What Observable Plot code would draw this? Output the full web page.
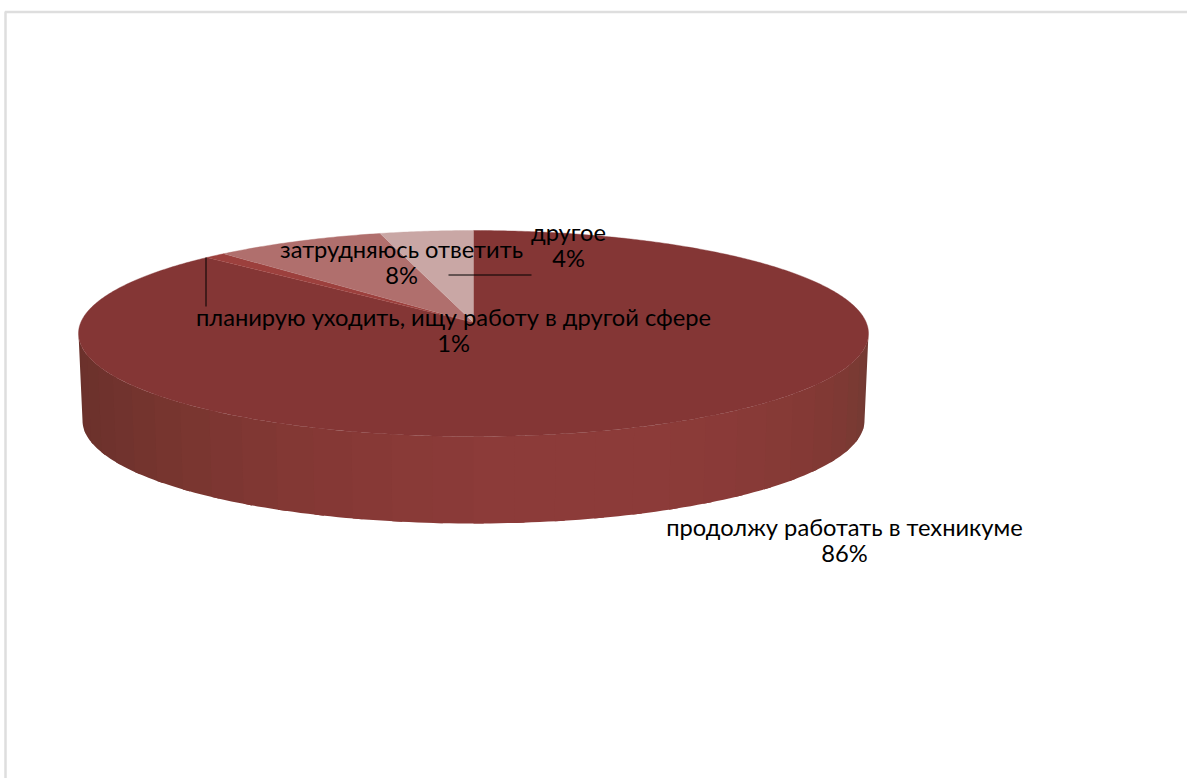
<!DOCTYPE html>
<html lang="ru">
<head>
<meta charset="utf-8">
<script src="https://cdn.jsdelivr.net/npm/d3@7"></script>
<script src="https://cdn.jsdelivr.net/npm/@observablehq/plot@0.6"></script>
<style>html,body{margin:0;padding:0;background:#fff;overflow:hidden}svg{display:block}</style>
</head>
<body>
<div id="chart"></div>
<script>
// Data: categories and values
const categories = ["продолжу работать в техникуме", "планирую уходить, ищу работу в другой сфере", "затрудняюсь ответить", "другое"];
const percentLabels = ["86%", "1%", "8%", "4%"];
const sliceShares = [88.2, 0.9, 7.1, 3.8]; // apparent share of the drawn circle
const sliceColors = ["#843635", "#9c403d", "#b06f6d", "#c9a7a5"];
// Shades of the rim, one per 6° step, left to right along the front
const rimShades = ["#6a312b","#6c312c","#6d322c","#6f322d","#71332e","#74342e","#77352f","#7a3630","#7d3632","#803733",
  "#833834","#853835","#873936","#893a37","#8a3a38","#8c3b39","#8c3b39","#8c3b39","#8c3b39","#8c3b39",
  "#8b3b38","#8a3a38","#883a37","#863a36","#843935","#813934","#7e3934","#7a3a33","#763a33","#723a33"];

// Layout
const W = 1187, H = 778;
const top3d = {cx: 473, cy: 333, rx: 395, ry: 103, apexY: 322};
const bottom3d = {cx: 473, cy: 420, rx: 391, ry: 103};
const labelAt = [{x: 844, y: 540.5}, {x: 453, y: 330.5}, {x: 401, y: 262.5}, {x: 568, y: 245.5}];
const leaders = [{x1: 205.5, y1: 257, x2: 205.5, y2: 306}, {x1: 448, y1: 274.5, x2: 531, y2: 274.5}];
const frame = {color: "#dedede", top: 11.5, left: 5};

const rad = d => d * Math.PI / 180;
const rimPoint = (e, a) => ({x: e.cx + e.rx * Math.sin(rad(a)), y: e.cy - e.ry * Math.cos(rad(a))});

// Top face: wedges swept clockwise from 12 o'clock
const total = d3.sum(sliceShares);
let sweep = 0;
const wedges = [];
sliceShares.forEach((share, i) => {
  const from = sweep, to = sweep + share / total * 360;
  wedges.push({id: "w" + i, color: sliceColors[i], x: top3d.cx, y: top3d.apexY});
  for (let a = from; a <= to; a += 0.5) wedges.push({id: "w" + i, color: sliceColors[i], ...rimPoint(top3d, a)});
  wedges.push({id: "w" + i, color: sliceColors[i], ...rimPoint(top3d, to)});
  sweep = to;
});

// Side wall: strips on the front half, each overlapping the next so no seam shows
const strips = [];
rimShades.forEach((color, i) => {
  const a0 = 270 - i * 6, a1 = Math.max(a0 - 7.5, 90), id = "s" + i;
  const pts = [];
  for (let k = 0; k <= 6; k++) pts.push(rimPoint(top3d, a0 + (a1 - a0) * k / 6));
  for (let k = 6; k >= 0; k--) pts.push(rimPoint(bottom3d, a0 + (a1 - a0) * k / 6));
  pts.forEach(p => strips.push({id, color, ...p}));
});

const labels = categories.map((c, i) => ({text: c + "\n" + percentLabels[i], ...labelAt[i]}));

const chart = Plot.plot({
  width: W, height: H, margin: 0,
  x: {domain: [0, W], range: [0, W], axis: null},
  y: {domain: [0, H], range: [0, H], axis: null},
  style: {background: "#fff"},
  marks: [
    Plot.ruleY([frame.top], {x1: frame.left, x2: W, stroke: frame.color, strokeWidth: 2.5}),
    Plot.ruleX([frame.left], {y1: frame.top, y2: H, stroke: frame.color, strokeWidth: 2.5}),
    Plot.line(strips, {x: "x", y: "y", z: "id", fill: "color", stroke: "none"}),
    Plot.line(wedges, {x: "x", y: "y", z: "id", fill: "color", stroke: "color", strokeWidth: 0.4}),
    Plot.link(leaders, {x1: "x1", y1: "y1", x2: "x2", y2: "y2", stroke: "#000", strokeWidth: 1}),
    Plot.text(labels, {x: "x", y: "y", text: "text", fontFamily: "Lato, 'Noto Sans', sans-serif", fontSize: 23.7, lineHeight: 1.08, fill: "#000", textAnchor: "middle"})
  ]
});
document.getElementById("chart").append(chart);
</script>
</body>
</html>
